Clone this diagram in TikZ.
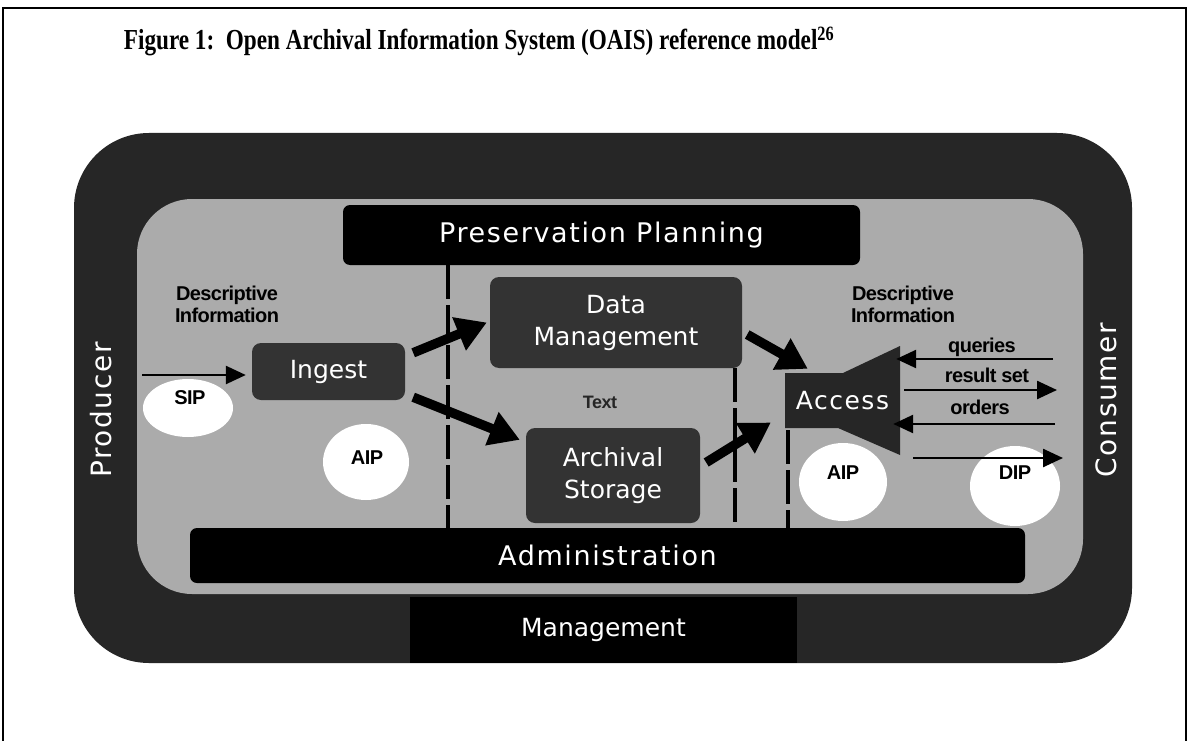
\documentclass[tikz,border=0pt]{standalone}
\usepackage{fontspec}
\setmainfont{Liberation Serif}
\newfontfamily\dvs{DejaVu Sans}
\newfontfamily\dvsw[LetterSpace=6]{DejaVu Sans}
\newfontfamily\arl[LetterSpace=-3]{Liberation Sans}
\usetikzlibrary{arrows.meta,shapes.geometric}
\begin{document}
\begin{tikzpicture}[x=1pt,y=-1pt,
  band/.style={fill=black!85},
  innerarea/.style={fill=black!33},
  funcbox/.style={fill=black!80, rounded corners=9pt, text=white, align=center, font=\dvs\fontsize{25}{32}\selectfont, inner sep=0pt},
  barbox/.style={fill=black, rounded corners=7pt, text=white, inner sep=0pt, font=\dvsw\fontsize{27}{32}\selectfont},
  blob/.style={ellipse, fill=white, inner sep=0pt},
  lbl/.style={font=\arl\bfseries\fontsize{20}{22}\selectfont, align=center, inner sep=0pt},
  side/.style={text=white, rotate=90, font=\dvsw\fontsize{28}{32}\selectfont, inner sep=0pt},
  bigarrow/.style={line width=9.5pt, -{Triangle[length=30pt,width=34pt]}},
  thinarrow/.style={line width=2.5pt, -{Triangle[length=20pt,width=18pt]}},
  divider/.style={line width=3.5pt, dash pattern=on 34pt off 6pt},
]
\useasboundingbox (0,0) rectangle (1188,741);
\fill[white] (0,0) rectangle (1188,741);
\draw[line width=1.5pt] (3,741) -- (3,8) -- (1186,8) -- (1186,741);

% title
\node[inner sep=0pt] (title) at (479,41) {\scalebox{0.80}[1]{\bfseries\fontsize{29}{32}\selectfont Figure 1:\ \ Open Archival Information System (OAIS) reference model\textsuperscript{26}}};

% frame
\fill[band, rounded corners=75pt] (74,133) rectangle (1132,663);
\fill[innerarea, rounded corners=55pt] (137,199) rectangle (1083,594);

\node[fill=black, minimum width=387pt, minimum height=66pt, inner sep=0pt, text=white, font=\dvs\fontsize{25}{30}\selectfont] (mgmt) at (603.5,630) {Management};

\node[side] (producer) at (101,410) {Producer};
\node[side] (consumer) at (1106,400) {Consumer};

% bars and boxes
\node[barbox, minimum width=517pt, minimum height=60pt] (pp) at (601.5,235) {Preservation Planning};
\node[barbox, minimum width=835pt, minimum height=55pt] (admin) at (607.5,555.5) {Administration};
\node[funcbox, minimum width=252pt, minimum height=91pt] (dm) at (616,322.5) {Data\\Management};
\node[funcbox, minimum width=153pt, minimum height=57pt] (ingest) at (328.5,371.5) {Ingest};
\node[funcbox, minimum width=174pt, minimum height=95pt] (as) at (613,475.5) {Archival\\Storage};

% access funnel
\fill[black!85] (785,373) -- (843,373) -- (900,346) -- (900,455) -- (838,428) -- (785,428) -- cycle;
\node[minimum width=115pt, minimum height=109pt, inner sep=0pt, text=white, font=\dvsw\fontsize{25}{30}\selectfont] (access) at (842.5,400.5) {Access};

% white blobs
\node[blob, minimum width=90pt, minimum height=58pt] (sipb) at (188,408) {};
\node[lbl] (sip) at (190,398) {SIP};
\node[blob, minimum width=86pt, minimum height=76pt] (aipLb) at (366,462) {};
\node[lbl] (aipL) at (367,458) {AIP};
\node[blob, minimum width=88pt, minimum height=78pt] (aipRb) at (843,482) {};
\node[lbl] (aipR) at (843,473) {AIP};
\node[blob, minimum width=90pt, minimum height=80pt] (dipb) at (1015,486) {};
\node[lbl] (dip) at (1015,473) {DIP};

% labels
\node[lbl] (descL) at (227,304) {Descriptive\\Information};
\node[lbl] (descR) at (903,304) {Descriptive\\Information};
\node[lbl, text=black!85, font=\arl\bfseries\fontsize{18}{20}\selectfont] (txt) at (600,402) {Text};
\node[lbl] (qry) at (982,347) {queries};
\node[lbl] (rs) at (987,375) {result set};
\node[lbl] (ord) at (980,407) {orders};

% dividers
\draw[divider] (448,0 |- pp.south) -- (448,0 |- admin.north);
\draw[divider] (735,0 |- dm.south) -- (735,0 |- admin.north);
\draw[divider] (788,430) -- (788,0 |- admin.north);

% thin arrows
\coordinate (sipStart) at (142,375);
\draw[thinarrow, shorten >=6pt] (sipStart) -- (sipStart -| ingest.west);
\coordinate (qEnd) at (1053,359);
\draw[thinarrow, shorten >=-4pt] (qEnd) -- (qEnd -| access.east);
\coordinate (rEnd) at (1057,390);
\draw[thinarrow, shorten <=4pt] (rEnd -| access.east) -- (rEnd);
\coordinate (oEnd) at (1055,424);
\draw[thinarrow, shorten >=-7pt] (oEnd) -- (oEnd -| access.east);
\coordinate (dEnd) at (1063,458);
\draw[thinarrow, shorten <=13pt] (dEnd -| access.east) -- (dEnd);

% thick arrows
\draw[bigarrow] ([shift={(8,10)}]ingest.north east) -- ([shift={(-3,0)}]dm.west);
\draw[bigarrow] ([shift={(8,-3)}]ingest.south east) -- ([shift={(-6,12)}]as.north west);
\draw[bigarrow] ([shift={(5,12)}]dm.east) -- ([shift={(23,23)}]access.north west);
\draw[bigarrow] ([shift={(6,-13)}]as.east) -- ([shift={(-14,22)}]access.west);
\end{tikzpicture}
\end{document}
